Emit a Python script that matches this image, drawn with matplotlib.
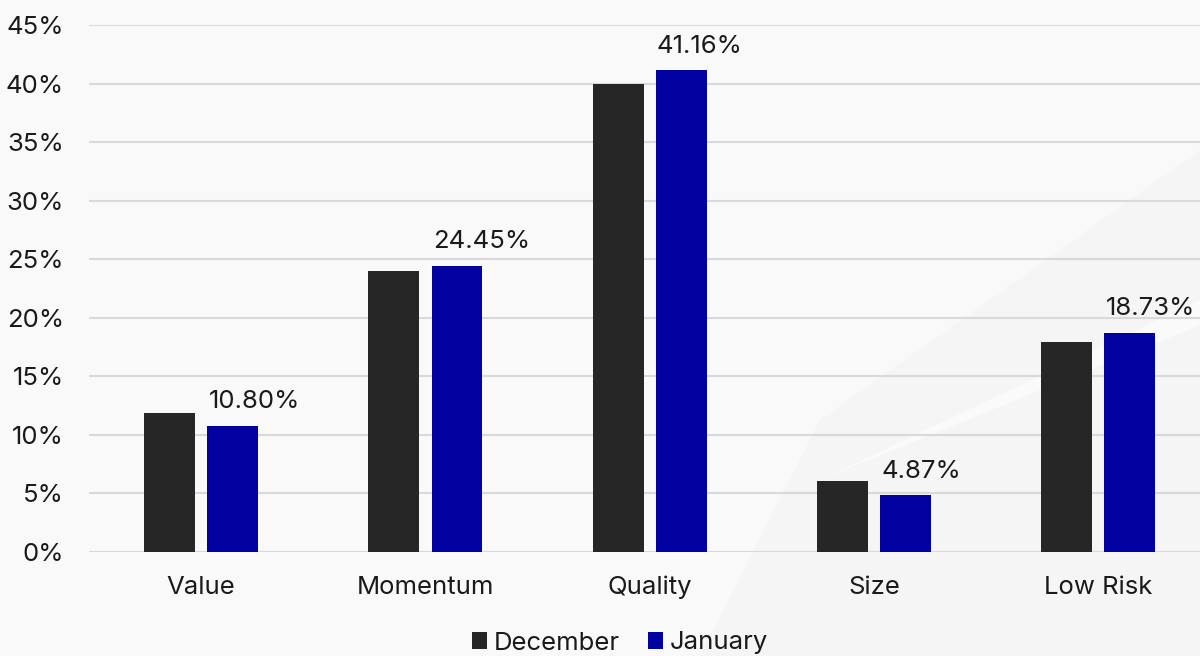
import matplotlib
matplotlib.use("Agg")
import matplotlib.pyplot as plt
from matplotlib.patches import Polygon
import numpy as np

categories = ["Value", "Momentum", "Quality", "Size", "Low Risk"]
december = [11.87, 24.00, 40.00, 6.06, 17.90]
january = [10.80, 24.45, 41.16, 4.87, 18.73]
y_ticks = [0, 5, 10, 15, 20, 25, 30, 35, 40, 45]
y_tick_labels = ["0%", "5%", "10%", "15%", "20%", "25%", "30%", "35%", "40%", "45%"]

plt.rcParams["font.family"] = ["Inter", "DejaVu Sans"]

W, H = 1200, 656
FS = 18.5
fig = plt.figure(figsize=(W / 100, H / 100), dpi=100)
fig.patch.set_facecolor("#F9F9F9")


def px(xp, yp):
    return (xp / W, 1 - yp / H)


# faint backdrop shapes on the right, behind everything
fig.patches.append(Polygon([px(700, 656), px(820, 420), px(1200, 150), px(1200, 656)],
                           closed=True, transform=fig.transFigure, facecolor="#F5F5F5",
                           edgecolor="none", zorder=-5))
fig.patches.append(Polygon([px(820, 480), px(1200, 300), px(1200, 325)],
                           closed=True, transform=fig.transFigure, facecolor="#FAFAFA",
                           edgecolor="none", zorder=-4))

# axes: category spacing ~224 px, first centre at x=201, 0% at y=552, 45% at y=25
left_px, right_px = 89, 89 + 224.3 * 5
bottom_px, top_px = 552, 25
ax = fig.add_axes([left_px / W, 1 - bottom_px / H, (right_px - left_px) / W, (bottom_px - top_px) / H])
ax.set_facecolor("none")
ax.set_zorder(1)

x = np.arange(len(categories))
bw = 0.227
off = 0.1405
ax.bar(x - off, december, bw, color="#262626", zorder=3, label="December")
bars_j = ax.bar(x + off, january, bw, color="#0202A0", zorder=3, label="January")

for b, v in zip(bars_j, january):
    ax.text(b.get_x() + 0.005, v + 1.05, f"{v:.2f}%", ha="left", va="bottom",
            fontsize=FS, color="#1a1a1a")

ax.set_xlim(-0.5, len(categories) - 0.5)
ax.set_ylim(0, 45)
ax.set_yticks(y_ticks)
ax.set_yticklabels(y_tick_labels)
ax.set_xticks(x)
ax.set_xticklabels(categories)
ax.tick_params(axis="both", length=0, labelsize=FS, colors="#1a1a1a")
ax.tick_params(axis="y", pad=18)
ax.tick_params(axis="x", pad=17)
ax.yaxis.grid(True, color="#D9D9D9", linewidth=1.5, zorder=0)
ax.set_axisbelow(True)
for s in ax.spines.values():
    s.set_visible(False)

fig.legend(loc="center", bbox_to_anchor=(620 / W, 1 - 643 / H), ncol=2, frameon=False,
           fontsize=FS, handlelength=0.6, handleheight=0.6, handletextpad=0.25,
           columnspacing=1.1, labelcolor="#1a1a1a")

fig.savefig("out.png", dpi=100, facecolor=fig.get_facecolor())
